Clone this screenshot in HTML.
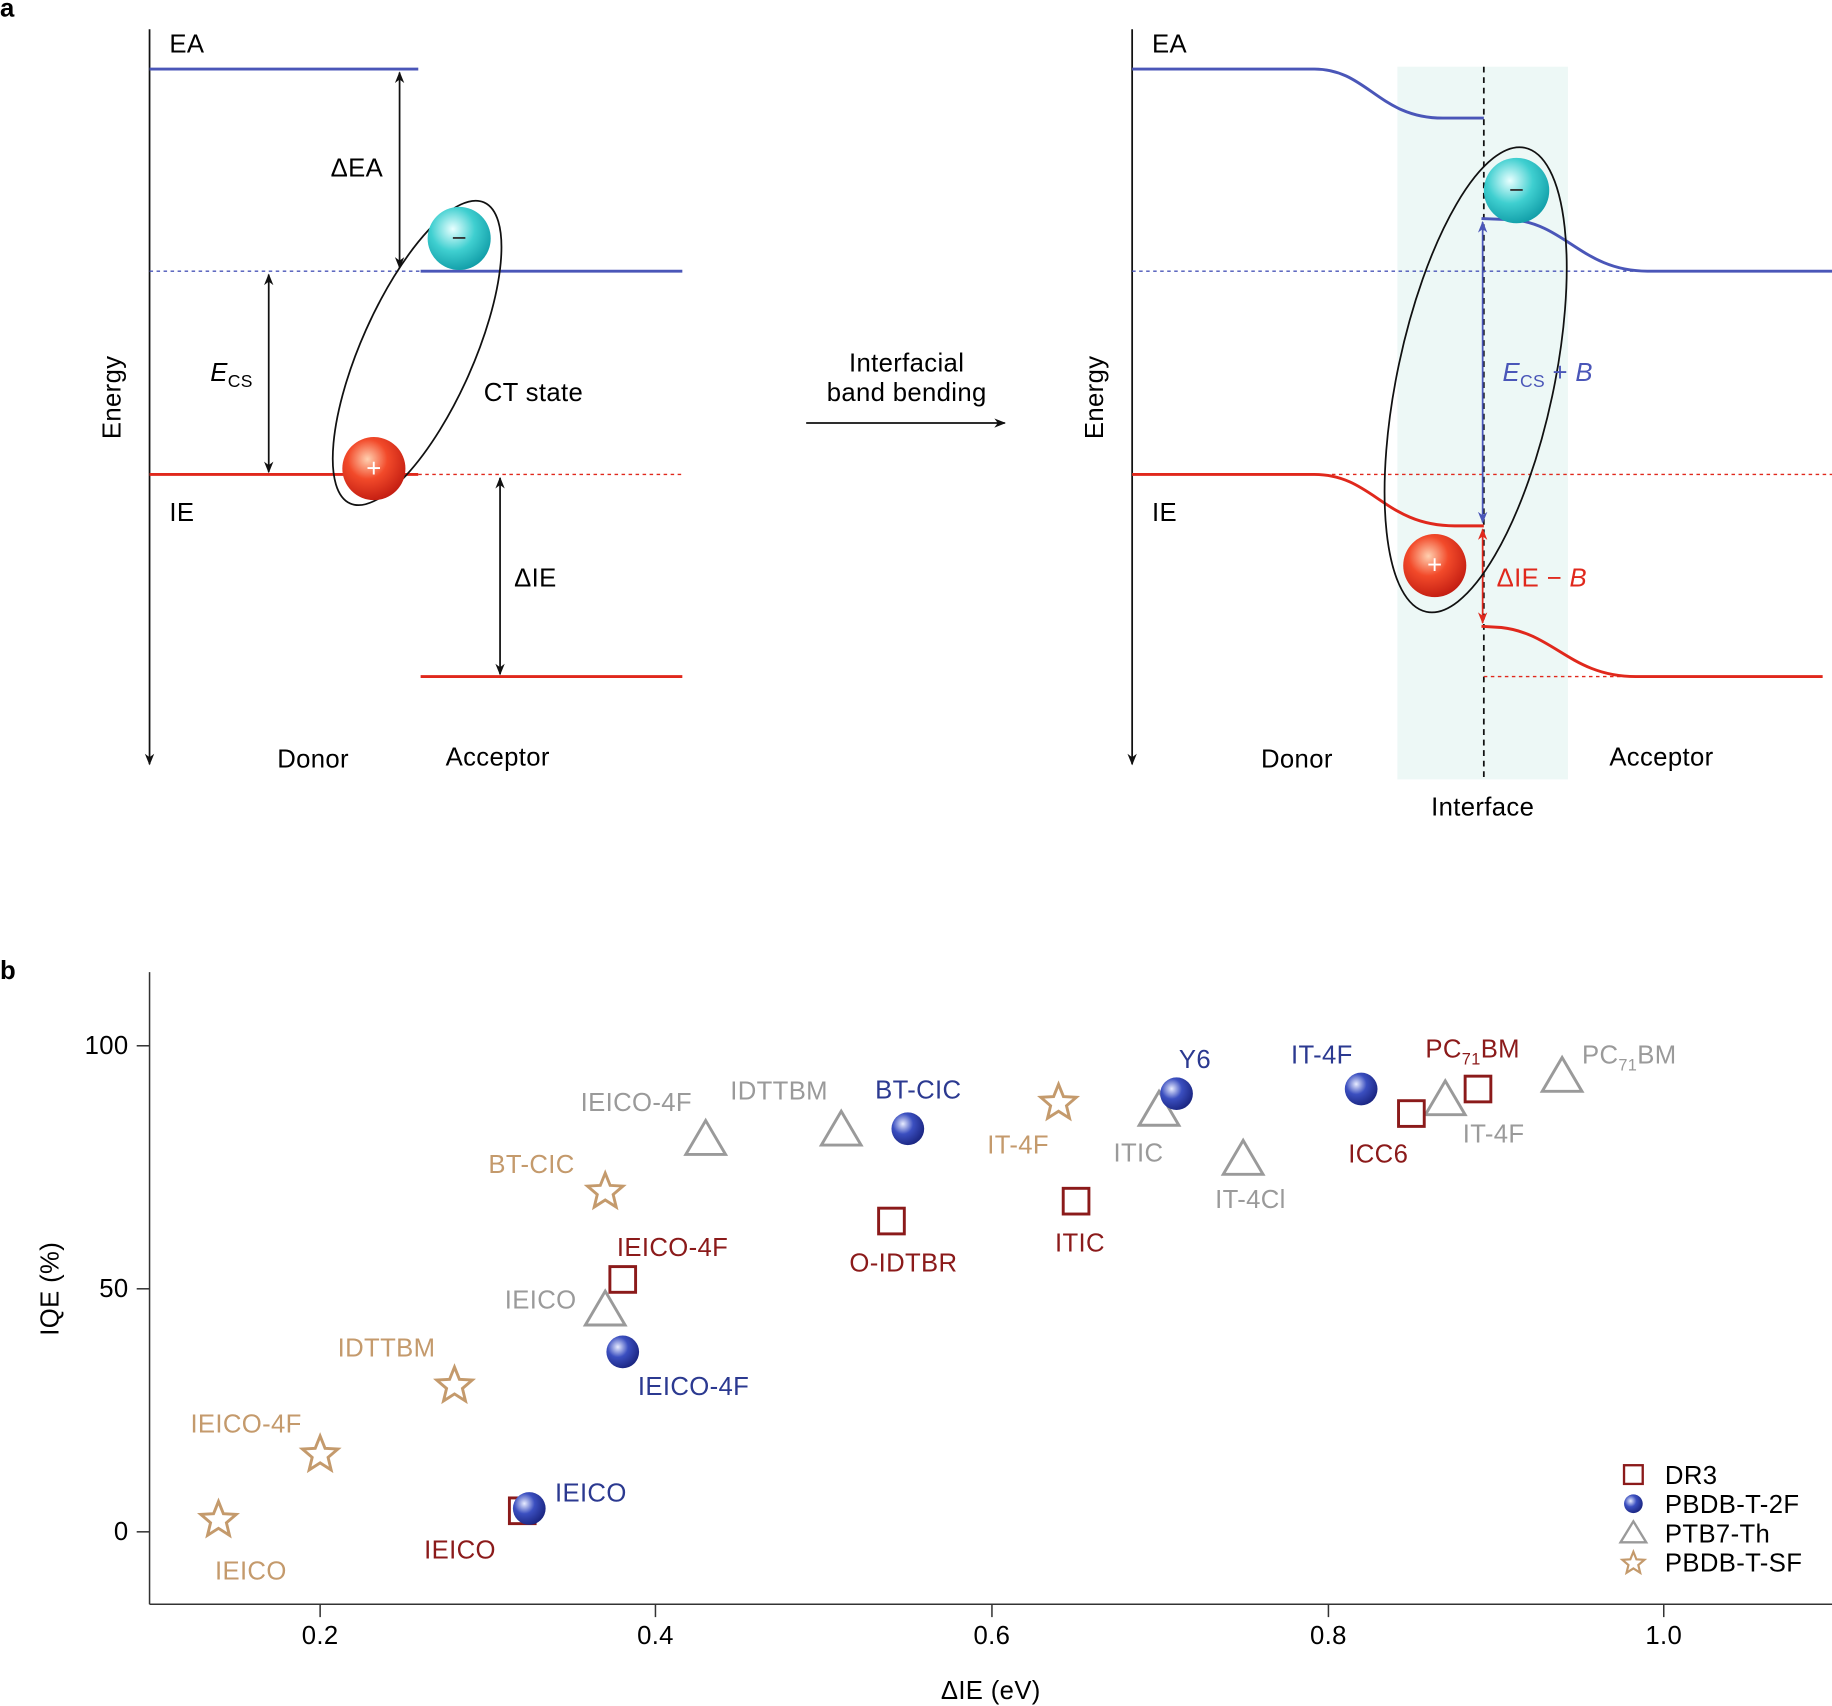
<!DOCTYPE html>
<html><head><meta charset="utf-8"><style>
html,body{margin:0;padding:0;background:#fff}
svg{display:block}
text{font-family:"Liberation Sans",sans-serif;font-size:22px;letter-spacing:0.3px}
</style></head><body>
<svg width="1832" height="1706" viewBox="0 0 1568 1460" xmlns="http://www.w3.org/2000/svg">
<defs>
<marker id="ak" markerWidth="10" markerHeight="10" refX="9" refY="5" orient="auto-start-reverse" markerUnits="userSpaceOnUse"><path d="M0,1 L10,5 L0,9 L3,5z" fill="#111"/></marker>
<marker id="ab" markerWidth="10" markerHeight="10" refX="9" refY="5" orient="auto-start-reverse" markerUnits="userSpaceOnUse"><path d="M0,1 L10,5 L0,9 L3,5z" fill="#4a56b8"/></marker>
<marker id="ar" markerWidth="10" markerHeight="10" refX="9" refY="5" orient="auto-start-reverse" markerUnits="userSpaceOnUse"><path d="M0,1 L10,5 L0,9 L3,5z" fill="#e0281c"/></marker>
<radialGradient id="gc" cx="0.4" cy="0.35" r="0.7"><stop offset="0" stop-color="#e8ffff"/><stop offset="0.5" stop-color="#3fcfd0"/><stop offset="1" stop-color="#0e9aa5"/></radialGradient>
<radialGradient id="gr" cx="0.4" cy="0.35" r="0.7"><stop offset="0" stop-color="#ffd0b0"/><stop offset="0.45" stop-color="#f24a2a"/><stop offset="1" stop-color="#c01a10"/></radialGradient>
<radialGradient id="gb" cx="0.35" cy="0.35" r="0.7"><stop offset="0" stop-color="#e8ecff"/><stop offset="0.45" stop-color="#3b4fc0"/><stop offset="1" stop-color="#1a2580"/></radialGradient>
<path id="star" d="M0,-16 L4.2,-5.5 L15.2,-4.9 L6.8,2.3 L9.4,13 L0,7 L-9.4,13 L-6.8,2.3 L-15.2,-4.9 L-4.2,-5.5Z" fill="none" stroke="#c49a6c" stroke-width="2.5"/>
<path id="tri" d="M0,-16 L17,13 L-17,13Z" fill="none" stroke="#9a9a9a" stroke-width="2.5"/>
<rect id="sq" x="-11" y="-11" width="22" height="22" fill="none" stroke="#8b1a1a" stroke-width="2.5"/>
<circle id="ball" r="14" fill="url(#gb)"/>
</defs>

<text x="0" y="14" font-weight="bold" font-size="22">a</text>
<line x1="128" y1="25" x2="128" y2="654" stroke="#111" stroke-width="1.5" marker-end="url(#ak)"/>
<line x1="128" y1="59" x2="358" y2="59" stroke="#4a56b8" stroke-width="2.5"/>
<line x1="128" y1="232" x2="360" y2="232" stroke="#4a56b8" stroke-width="1.2" stroke-dasharray="3,3"/>
<line x1="360" y1="232" x2="584" y2="232" stroke="#4a56b8" stroke-width="2.5"/>
<line x1="128" y1="406" x2="358" y2="406" stroke="#e0281c" stroke-width="2.5"/>
<line x1="358" y1="406" x2="584" y2="406" stroke="#e0281c" stroke-width="1.2" stroke-dasharray="3,3"/>
<line x1="360" y1="579" x2="584" y2="579" stroke="#e0281c" stroke-width="2.5"/>
<line x1="342" y1="62" x2="342" y2="229" stroke="#111" stroke-width="1.5" marker-start="url(#ak)" marker-end="url(#ak)"/>
<line x1="230" y1="235" x2="230" y2="404" stroke="#111" stroke-width="1.5" marker-start="url(#ak)" marker-end="url(#ak)"/>
<line x1="428" y1="409" x2="428" y2="577" stroke="#111" stroke-width="1.5" marker-start="url(#ak)" marker-end="url(#ak)"/>
<ellipse cx="357" cy="302" rx="48" ry="141" transform="rotate(24 357 302)" fill="none" stroke="#111" stroke-width="1.5"/>
<circle cx="393" cy="204" r="27" fill="url(#gc)"/><text x="393" y="211" text-anchor="middle" fill="#333">−</text>
<circle cx="320" cy="401" r="27" fill="url(#gr)"/><text x="320" y="408" text-anchor="middle" fill="#fff">+</text>
<text x="145" y="45">EA</text>
<text x="283" y="151">ΔEA</text>
<text x="180" y="326" font-style="italic">E<tspan font-size="15" dy="5" font-style="normal">CS</tspan></text>
<text x="414" y="343">CT state</text>
<text x="145" y="446">IE</text>
<text x="440" y="502">ΔIE</text>
<text transform="translate(103 340) rotate(-90)" text-anchor="middle">Energy</text>
<text x="268" y="657" text-anchor="middle">Donor</text>
<text x="426" y="655" text-anchor="middle">Acceptor</text>
<text x="776" y="318" text-anchor="middle">Interfacial</text>
<text x="776" y="343" text-anchor="middle">band bending</text>
<line x1="690" y1="362" x2="860" y2="362" stroke="#111" stroke-width="1.5" marker-end="url(#ak)"/>
<rect x="1196" y="57" width="146" height="610" fill="#edf8f6"/>
<line x1="969" y1="25" x2="969" y2="654" stroke="#111" stroke-width="1.5" marker-end="url(#ak)"/>
<line x1="1270" y1="57" x2="1270" y2="667" stroke="#111" stroke-width="1.5" stroke-dasharray="5,4"/>
<line x1="969" y1="232" x2="1568" y2="232" stroke="#4a56b8" stroke-width="1.2" stroke-dasharray="3,3"/>
<line x1="1140" y1="406" x2="1568" y2="406" stroke="#e0281c" stroke-width="1.2" stroke-dasharray="3,3"/>
<line x1="1270" y1="579" x2="1390" y2="579" stroke="#e0281c" stroke-width="1.2" stroke-dasharray="3,3"/>
<path d="M969,59 L1125,59 C1170,59 1180,101 1235,101 L1270,101" fill="none" stroke="#4a56b8" stroke-width="2.5"/>
<path d="M1268,187 L1295,188 C1340,192 1355,232 1410,232 L1568,232" fill="none" stroke="#4a56b8" stroke-width="2.5"/>
<path d="M969,406 L1125,406 C1175,406 1185,450 1245,450 L1270,450" fill="none" stroke="#e0281c" stroke-width="2.5"/>
<path d="M1268,536 L1285,537 C1330,542 1345,579 1400,579 L1560,579" fill="none" stroke="#e0281c" stroke-width="2.5"/>
<line x1="1269" y1="190" x2="1269" y2="447" stroke="#4a56b8" stroke-width="1.5" marker-start="url(#ab)" marker-end="url(#ab)"/>
<line x1="1269" y1="453" x2="1269" y2="533" stroke="#e0281c" stroke-width="1.5" marker-start="url(#ar)" marker-end="url(#ar)"/>
<ellipse cx="1263" cy="325" rx="67" ry="203" transform="rotate(12 1263 325)" fill="none" stroke="#111" stroke-width="1.5"/>
<circle cx="1298" cy="163" r="28" fill="url(#gc)"/><text x="1298" y="170" text-anchor="middle" fill="#333">−</text>
<circle cx="1228" cy="484" r="27" fill="url(#gr)"/><text x="1228" y="491" text-anchor="middle" fill="#fff">+</text>
<text x="986" y="45">EA</text>
<text x="986" y="446">IE</text>
<text x="1286" y="326" fill="#4a56b8" font-style="italic">E<tspan font-size="15" dy="5" font-style="normal">CS</tspan><tspan dy="-5" font-style="normal"> + </tspan>B</text>
<text x="1281" y="502" fill="#e0281c">ΔIE − <tspan font-style="italic">B</tspan></text>
<text transform="translate(944 340) rotate(-90)" text-anchor="middle">Energy</text>
<text x="1110" y="657" text-anchor="middle">Donor</text>
<text x="1422" y="655" text-anchor="middle">Acceptor</text>
<text x="1269" y="698" text-anchor="middle">Interface</text>

<text x="0" y="838" font-weight="bold" font-size="22">b</text>
<g stroke="#333" stroke-width="1.3">
<line x1="128" y1="832" x2="128" y2="1373"/>
<line x1="128" y1="1373" x2="1568" y2="1373"/>
<line x1="117" y1="895" x2="128" y2="895"/><line x1="117" y1="1103" x2="128" y2="1103"/><line x1="117" y1="1311" x2="128" y2="1311"/>
<line x1="274" y1="1373" x2="274" y2="1384"/><line x1="561" y1="1373" x2="561" y2="1384"/><line x1="849" y1="1373" x2="849" y2="1384"/><line x1="1137" y1="1373" x2="1137" y2="1384"/><line x1="1424" y1="1373" x2="1424" y2="1384"/>
</g>
<g text-anchor="end"><text x="110" y="902">100</text><text x="110" y="1110">50</text><text x="110" y="1318">0</text></g>
<g text-anchor="middle"><text x="274" y="1407">0.2</text><text x="561" y="1407">0.4</text><text x="849" y="1407">0.6</text><text x="1137" y="1407">0.8</text><text x="1424" y="1407">1.0</text></g>
<text x="848" y="1454" text-anchor="middle">ΔIE (eV)</text>
<text transform="translate(50 1103) rotate(-90)" text-anchor="middle">IQE (%)</text>

<use href="#star" x="187" y="1301"/><use href="#star" x="274" y="1245"/><use href="#star" x="389" y="1186"/><use href="#star" x="518" y="1020"/><use href="#star" x="906" y="944"/>
<use href="#tri" x="518" y="1121"/><use href="#tri" x="604" y="975"/><use href="#tri" x="720" y="967"/><use href="#tri" x="992" y="950"/><use href="#tri" x="1064" y="992"/><use href="#tri" x="1237" y="941"/><use href="#tri" x="1337" y="921"/>
<use href="#sq" x="447" y="1293"/><use href="#sq" x="533" y="1095"/><use href="#sq" x="763" y="1045"/><use href="#sq" x="921" y="1028"/><use href="#sq" x="1208" y="953"/><use href="#sq" x="1265" y="932"/>
<use href="#ball" x="453" y="1291"/><use href="#ball" x="533" y="1157"/><use href="#ball" x="777" y="966"/><use href="#ball" x="1007" y="936"/><use href="#ball" x="1165" y="932"/>

<g fill="#c49a6c"><text x="184" y="1352">IEICO</text><text x="163" y="1226">IEICO-4F</text><text x="289" y="1161">IDTTBM</text><text x="418" y="1004">BT-CIC</text><text x="845" y="987">IT-4F</text></g>
<g fill="#9a9a9a"><text x="432" y="1120">IEICO</text><text x="497" y="951">IEICO-4F</text><text x="625" y="941">IDTTBM</text><text x="953" y="994">ITIC</text><text x="1040" y="1034">IT-4Cl</text><text x="1252" y="978">IT-4F</text><text x="1354" y="910">PC<tspan font-size="14" dy="6">71</tspan><tspan dy="-6">BM</tspan></text></g>
<g fill="#2b3990"><text x="475" y="1285">IEICO</text><text x="546" y="1194">IEICO-4F</text><text x="749" y="940">BT-CIC</text><text x="1009" y="914">Y6</text><text x="1105" y="910">IT-4F</text></g>
<g fill="#8b1a1a"><text x="363" y="1334">IEICO</text><text x="528" y="1075">IEICO-4F</text><text x="727" y="1088">O-IDTBR</text><text x="903" y="1071">ITIC</text><text x="1154" y="995">ICC6</text><text x="1220" y="905">PC<tspan font-size="14" dy="6">71</tspan><tspan dy="-6">BM</tspan></text></g>

<rect x="1390" y="1254" width="16" height="16" fill="none" stroke="#8b1a1a" stroke-width="2"/>
<circle cx="1398" cy="1287" r="8" fill="url(#gb)"/>
<path d="M1398,1302 L1409,1320 L1387,1320Z" fill="none" stroke="#9a9a9a" stroke-width="2"/>
<path transform="translate(1398 1338) scale(0.62)" d="M0,-16 L4.2,-5.5 L15.2,-4.9 L6.8,2.3 L9.4,13 L0,7 L-9.4,13 L-6.8,2.3 L-15.2,-4.9 L-4.2,-5.5Z" fill="none" stroke="#c49a6c" stroke-width="3"/>
<text x="1425" y="1270">DR3</text><text x="1425" y="1295">PBDB-T-2F</text><text x="1425" y="1320">PTB7-Th</text><text x="1425" y="1345">PBDB-T-SF</text>
</svg>
</body></html>
